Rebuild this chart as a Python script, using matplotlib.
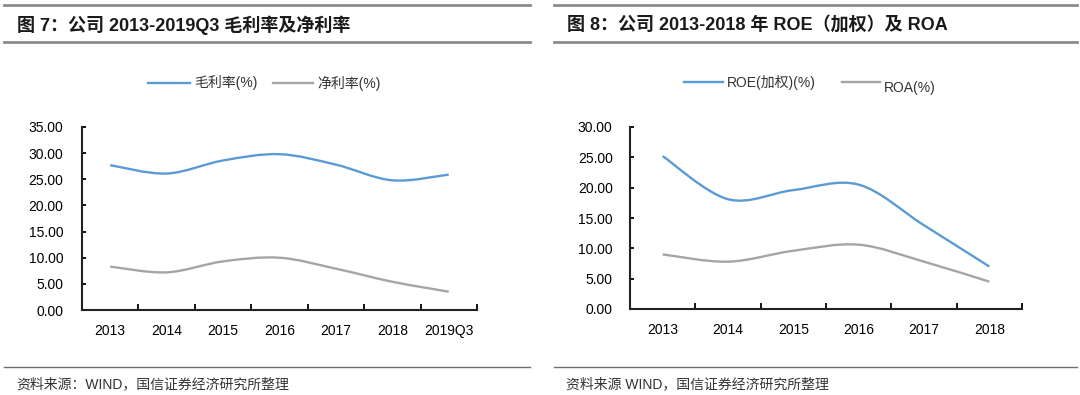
import matplotlib
matplotlib.use("Agg")
import matplotlib.pyplot as plt
from matplotlib.path import Path
from matplotlib.patches import PathPatch
from matplotlib.lines import Line2D

plt.rcParams['font.family'] = ['Liberation Sans', 'Noto Sans CJK SC']

# left chart: gross / net margin
years_l = ['2013', '2014', '2015', '2016', '2017', '2018', '2019Q3']
gross = [27.7, 26.1, 28.6, 29.8, 27.8, 24.8, 25.9]
net = [8.3, 7.2, 9.3, 10.0, 7.9, 5.4, 3.5]

# right chart: ROE (weighted) / ROA
years_r = ['2013', '2014', '2015', '2016', '2017', '2018']
roe = [25.2, 18.1, 19.6, 20.5, 13.8, 7.0]
roa = [9.0, 7.8, 9.6, 10.6, 7.8, 4.5]

BLUE = '#5B9BD5'
GRAY = '#A5A5A5'


def smooth_line(ax, ys, color):
    # excel-style smoothed line: cubic bezier through every point
    n = len(ys)
    pts = [(i, ys[i]) for i in range(n)]
    verts = [pts[0]]
    codes = [Path.MOVETO]
    for i in range(n - 1):
        p0 = pts[max(i - 1, 0)]
        p1 = pts[i]
        p2 = pts[i + 1]
        p3 = pts[min(i + 2, n - 1)]
        c1 = (p1[0] + (p2[0] - p0[0]) / 6, p1[1] + (p2[1] - p0[1]) / 6)
        c2 = (p2[0] - (p3[0] - p1[0]) / 6, p2[1] - (p3[1] - p1[1]) / 6)
        verts += [c1, c2, p2]
        codes += [Path.CURVE4] * 3
    ax.add_patch(PathPatch(Path(verts, codes), fill=False, edgecolor=color,
                           lw=1.7, capstyle='butt'))


def setup_axes(ax, cats, ymax, ypad):
    ax.set_xlim(-0.5, len(cats) - 0.5)
    ax.set_ylim(0, ymax)
    ax.set_yticks(range(0, ymax + 1, 5))
    ax.set_yticklabels(['%.2f' % v for v in range(0, ymax + 1, 5)], fontsize=10)
    ax.set_xticks(range(len(cats)))
    ax.set_xticklabels(cats, fontsize=10)
    ax.set_xticks([i - 0.5 for i in range(len(cats) + 1)], minor=True)
    ax.tick_params(axis='x', which='major', length=0, pad=10)
    ax.tick_params(axis='x', which='minor', direction='in', length=4, width=1.3)
    ax.tick_params(axis='y', direction='in', length=3, width=1.3, pad=ypad)
    for s in ['top', 'right']:
        ax.spines[s].set_visible(False)
    for s in ['left', 'bottom']:
        ax.spines[s].set_linewidth(1.5)
        ax.spines[s].set_color('#222222')


fig = plt.figure(figsize=(10.8, 3.95), dpi=100)

ax1 = fig.add_axes([82 / 1080, 1 - 310 / 395, 395 / 1080, 183 / 395])
setup_axes(ax1, years_l, 35, 13.5)
smooth_line(ax1, gross, BLUE)
smooth_line(ax1, net, GRAY)

ax2 = fig.add_axes([630 / 1080, 1 - 309 / 395, 392 / 1080, 182 / 395])
setup_axes(ax2, years_r, 30, 12.5)
smooth_line(ax2, roe, BLUE)
smooth_line(ax2, roa, GRAY)


def fx(px):
    return px / 1080


def fy(py):
    return 1 - py / 395


# header / footer rules
for x0, x1 in [(4, 530), (554, 1077)]:
    for y in [5, 42]:
        fig.add_artist(Line2D([fx(x0), fx(x1)], [fy(y), fy(y)], color='#8C8C8C', lw=2))
    fig.add_artist(Line2D([fx(x0), fx(x1)], [fy(367), fy(367)], color='#6E6E6E', lw=1))

fig.text(fx(17), fy(25), '图 7：公司 2013-2019Q3 毛利率及净利率', fontsize=13,
         fontweight='bold', va='center', ha='left', color='#1a1a1a')
fig.text(fx(567), fy(25), '图 8：公司 2013-2018 年 ROE（加权）及 ROA', fontsize=13,
         fontweight='bold', va='center', ha='left', color='#1a1a1a')

fig.text(fx(16), fy(384), '资料来源：WIND，国信证券经济研究所整理', fontsize=10,
         va='center', ha='left', color='#333333')
fig.text(fx(566), fy(384), '资料来源 WIND，国信证券经济研究所整理', fontsize=10,
         va='center', ha='left', color='#333333')

# legends
legend_items = [
    (148, 190, 83, BLUE, '毛利率(%)', 83),
    (273, 313, 83, GRAY, '净利率(%)', 83),
    (684, 723, 82, BLUE, 'ROE(加权)(%)', 82),
    (842, 880, 82, GRAY, 'ROA(%)', 88),
]
for x0, x1, y, c, label, ty in legend_items:
    fig.add_artist(Line2D([fx(x0), fx(x1)], [fy(y), fy(y)], color=c, lw=1.7))
    fig.text(fx(x1 + 4), fy(ty), label, fontsize=10, va='center', ha='left',
             color='#333333')

fig.savefig('out.png', dpi=100)
